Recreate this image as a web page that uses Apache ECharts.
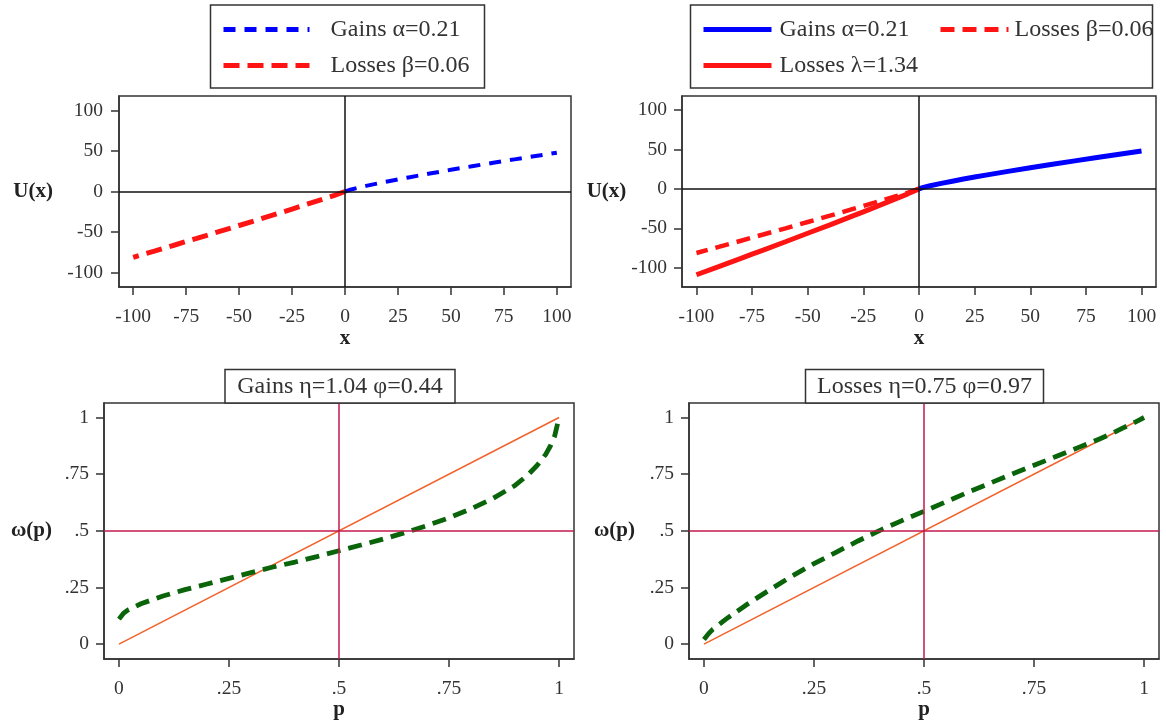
<!DOCTYPE html>
<html>
<head>
<meta charset="utf-8">
<script src="https://cdn.jsdelivr.net/npm/echarts@6/dist/echarts.min.js"></script>
<style>
html,body{margin:0;padding:0;background:#fff;}
#chart{width:1166px;height:727px;}
</style>
</head>
<body>
<div id="chart"></div>
<script>
// ---------- data ----------
const xTicks = [-100, -75, -50, -25, 0, 25, 50, 75, 100];
const uTicks = [-100, -50, 0, 50, 100];
const pTicks = [0, 0.25, 0.5, 0.75, 1];

const gainX = [0, 2, 5, 10, 15, 20, 25, 30, 40, 50, 60, 70, 80, 90, 100];
const gainU = [0, 1.8, 3.9, 6.9, 9.7, 12.4, 15.0, 17.4, 22.2, 26.8, 31.2, 35.5, 39.7, 43.8, 47.9];

const lossX = [0, -5, -10, -20, -25, -30, -40, -50, -60, -70, -75, -80, -90, -100];
const lossBeta = [0, -4.7, -9.0, -17.5, -21.7, -25.8, -34.0, -42.0, -50.0, -57.9, -61.8, -65.8, -73.6, -81.3];
const lossLambda = [0, -6.3, -12.1, -23.5, -29.1, -34.6, -45.6, -56.3, -67.0, -77.6, -82.8, -88.2, -98.6, -108.9];

const pGrid = [0, 0.01, 0.02, 0.05, 0.1, 0.15, 0.2, 0.25, 0.3, 0.35, 0.4, 0.45, 0.5, 0.55, 0.6, 0.65, 0.7, 0.75, 0.8, 0.85, 0.9, 0.93, 0.95, 0.97, 0.98, 0.99, 1];
const wGains = [0.11, 0.135, 0.15, 0.178, 0.212, 0.24, 0.265, 0.29, 0.315, 0.34, 0.362, 0.386, 0.412, 0.437, 0.463, 0.492, 0.523, 0.557, 0.597, 0.643, 0.7, 0.748, 0.788, 0.838, 0.873, 0.918, 1.0];
const wLosses = [0.02, 0.045, 0.065, 0.11, 0.178, 0.24, 0.3, 0.355, 0.405, 0.455, 0.502, 0.545, 0.586, 0.628, 0.67, 0.71, 0.75, 0.789, 0.828, 0.867, 0.906, 0.932, 0.952, 0.97, 0.98, 0.99, 1.0];

const diagP = [0, 1];
const diagW = [0, 1];
const zeroRef = 0;
const halfRef = 0.5;

const gainsTitle = 'Gains η=1.04 φ=0.44';
const lossesTitle = 'Losses η=0.75 φ=0.97';

// ---------- helpers ----------
const FONT = 'Liberation Serif';
const AX = '#333';
const zip = (a, b) => a.map((v, i) => [v, b[i]]);
const probFmt = v => (v === 0 ? '0' : v === 1 ? '1' : String(v).replace(/^0/, ''));

function xAxisCfg(gi, min, max, ticks, fmt, name, nameGap) {
  return {
    type: 'value', gridIndex: gi, min, max,
    name, nameLocation: 'middle', nameGap,
    nameTextStyle: { fontFamily: FONT, fontSize: 21, fontWeight: 'bold', color: '#222' },
    axisLine: { show: true, onZero: false, lineStyle: { color: AX, width: 1.5 } },
    axisTick: { show: true, length: 8, customValues: ticks, lineStyle: { color: AX, width: 1.5 } },
    axisLabel: { customValues: ticks, formatter: fmt, margin: 19.5, fontFamily: FONT, fontSize: 19.5, fontWeight: 'normal', color: '#333' },
    splitLine: { show: false }
  };
}
function yAxisCfg(gi, min, max, ticks, fmt, name, nameGap, margin) {
  return {
    type: 'value', gridIndex: gi, min, max,
    name, nameLocation: 'middle', nameGap, nameRotate: 0,
    nameTextStyle: { fontFamily: FONT, fontSize: 21, fontWeight: 'bold', color: '#222' },
    axisLine: { show: true, onZero: false, lineStyle: { color: AX, width: 1.5 } },
    axisTick: { show: true, length: 8, customValues: ticks, lineStyle: { color: AX, width: 1.5 } },
    axisLabel: { customValues: ticks, formatter: fmt, margin, fontFamily: FONT, fontSize: 19.5, fontWeight: 'normal', color: '#333' },
    splitLine: { show: false }
  };
}
function refLines(color, xv, yv) {
  return {
    silent: true, symbol: ['none', 'none'], label: { show: false },
    lineStyle: { color, width: 1.5, type: 'solid' },
    emphasis: { disabled: true },
    data: [{ xAxis: xv }, { yAxis: yv }]
  };
}
function leg(name, left, cy, iconW, padLeft, lw) {
  return {
    data: [name], left, top: cy - 13, orient: 'horizontal',
    itemWidth: iconW, itemHeight: 14, padding: 0, selectedMode: false,
    formatter: n => n.trim(),
    lineStyle: { width: lw },
    itemStyle: { color: 'rgba(0,0,0,0)', borderWidth: 0, opacity: 0 },
    textStyle: { fontFamily: FONT, fontSize: 24, fontWeight: 'normal', color: '#333', lineHeight: 26, padding: [0, 0, 0, padLeft] }
  };
}
const uFmt = v => String(v);

const BLUE = '#0000ff', RED = '#ff1414', GREEN = '#0a640a', ORANGE = '#f2622a', CRAN = '#c4194c';

const option = {
  animation: false,
  backgroundColor: '#fff',
  textStyle: { fontFamily: FONT },
  grid: [
    { left: 119, right: 595, top: 96, bottom: 440, show: true, borderColor: AX, borderWidth: 1.5 },
    { left: 682, right: 10, top: 96, bottom: 440, show: true, borderColor: AX, borderWidth: 1.5 },
    { left: 104, right: 592, top: 403, bottom: 68, show: true, borderColor: AX, borderWidth: 1.5 },
    { left: 689, right: 7, top: 403, bottom: 68, show: true, borderColor: AX, borderWidth: 1.5 }
  ],
  xAxis: [
    xAxisCfg(0, -106.7, 106.7, xTicks, uFmt, 'x', 41),
    xAxisCfg(1, -106.5, 106.5, xTicks, uFmt, 'x', 41),
    xAxisCfg(2, -0.034, 1.034, pTicks, probFmt, 'p', 40),
    xAxisCfg(3, -0.034, 1.034, pTicks, probFmt, 'p', 40)
  ],
  yAxis: [
    yAxisCfg(0, -118, 118, uTicks, uFmt, 'U(x)', 66, 16),
    yAxisCfg(1, -124.4, 117.7, uTicks, uFmt, 'U(x)', 46, 15),
    yAxisCfg(2, -0.066, 1.064, pTicks, probFmt, 'ω(p)', 52, 15),
    yAxisCfg(3, -0.066, 1.064, pTicks, probFmt, 'ω(p)', 54, 15)
  ],
  legend: [
    leg('Gains α=0.21', 221, 29.5, 86, 16, 5),
    leg('Losses β=0.06', 221, 65.5, 86, 16, 5),
    leg('Gains α=0.21 ', 701, 29.5, 68, 3, 5),
    leg('Losses β=0.06 ', 938, 29.5, 68, 1, 5),
    leg('Losses λ=1.34', 701, 65.5, 68, 3, 5)
  ],
  graphic: [
    { type: 'rect', z: 10, shape: { x: 210.5, y: 5, width: 274, height: 83 }, style: { fill: 'none', stroke: AX, lineWidth: 1.5 } },
    { type: 'rect', z: 100, shape: { x: 1153.2, y: 6, width: 13, height: 81 }, style: { fill: '#fff', stroke: 'none' } },
    { type: 'rect', z: 101, shape: { x: 690.5, y: 5, width: 462, height: 83 }, style: { fill: 'none', stroke: AX, lineWidth: 1.5 } },
    { type: 'rect', z: 10, shape: { x: 225, y: 369.5, width: 230, height: 33.5 }, style: { fill: '#fff', stroke: AX, lineWidth: 1.5 } },
    { type: 'text', z: 11, x: 340, y: 387, style: { text: gainsTitle, fontFamily: FONT, fontSize: 24, fontWeight: 'normal', fill: '#333', align: 'center', verticalAlign: 'middle' } },
    { type: 'rect', z: 10, shape: { x: 805.5, y: 369.5, width: 238, height: 33.5 }, style: { fill: '#fff', stroke: AX, lineWidth: 1.5 } },
    { type: 'text', z: 11, x: 924.5, y: 387, style: { text: lossesTitle, fontFamily: FONT, fontSize: 24, fontWeight: 'normal', fill: '#333', align: 'center', verticalAlign: 'middle' } }
  ],
  series: [
    // top-left
    { type: 'line', name: 'Gains α=0.21', xAxisIndex: 0, yAxisIndex: 0, data: zip(gainX, gainU),
      symbol: 'none', color: BLUE, lineStyle: { color: BLUE, width: 4, type: [12, 9] },
      markLine: refLines('#111', zeroRef, zeroRef), z: 3 },
    { type: 'line', name: 'Losses β=0.06', xAxisIndex: 0, yAxisIndex: 0, data: zip(lossX, lossBeta),
      symbol: 'none', color: RED, lineStyle: { color: RED, width: 5, type: [16, 8] }, z: 3 },
    // top-right
    { type: 'line', name: 'Gains α=0.21 ', xAxisIndex: 1, yAxisIndex: 1, data: zip(gainX, gainU),
      symbol: 'none', color: BLUE, lineStyle: { color: BLUE, width: 5, type: 'solid' },
      markLine: refLines('#111', zeroRef, zeroRef), z: 3 },
    { type: 'line', name: 'Losses β=0.06 ', xAxisIndex: 1, yAxisIndex: 1, data: zip(lossX, lossBeta),
      symbol: 'none', color: RED, lineStyle: { color: RED, width: 4.5, type: [14, 8] }, z: 3 },
    { type: 'line', name: 'Losses λ=1.34', xAxisIndex: 1, yAxisIndex: 1, data: zip(lossX, lossLambda),
      symbol: 'none', color: RED, lineStyle: { color: RED, width: 5, type: 'solid' }, z: 4 },
    // bottom-left
    { type: 'line', name: 'diagG', xAxisIndex: 2, yAxisIndex: 2, data: zip(diagP, diagW),
      symbol: 'none', color: ORANGE, lineStyle: { color: ORANGE, width: 1.5 },
      markLine: refLines(CRAN, halfRef, halfRef), z: 2 },
    { type: 'line', name: 'wG', xAxisIndex: 2, yAxisIndex: 2, data: zip(pGrid, wGains),
      symbol: 'none', color: GREEN, lineStyle: { color: GREEN, width: 4.8, type: [14, 8] }, z: 3 },
    // bottom-right
    { type: 'line', name: 'diagL', xAxisIndex: 3, yAxisIndex: 3, data: zip(diagP, diagW),
      symbol: 'none', color: ORANGE, lineStyle: { color: ORANGE, width: 1.5 },
      markLine: refLines(CRAN, halfRef, halfRef), z: 2 },
    { type: 'line', name: 'wL', xAxisIndex: 3, yAxisIndex: 3, data: zip(pGrid, wLosses),
      symbol: 'none', color: GREEN, lineStyle: { color: GREEN, width: 4.8, type: [14, 8] }, z: 3 }
  ]
};

const chart = echarts.init(document.getElementById('chart'));
chart.setOption(option);
</script>
</body>
</html>
